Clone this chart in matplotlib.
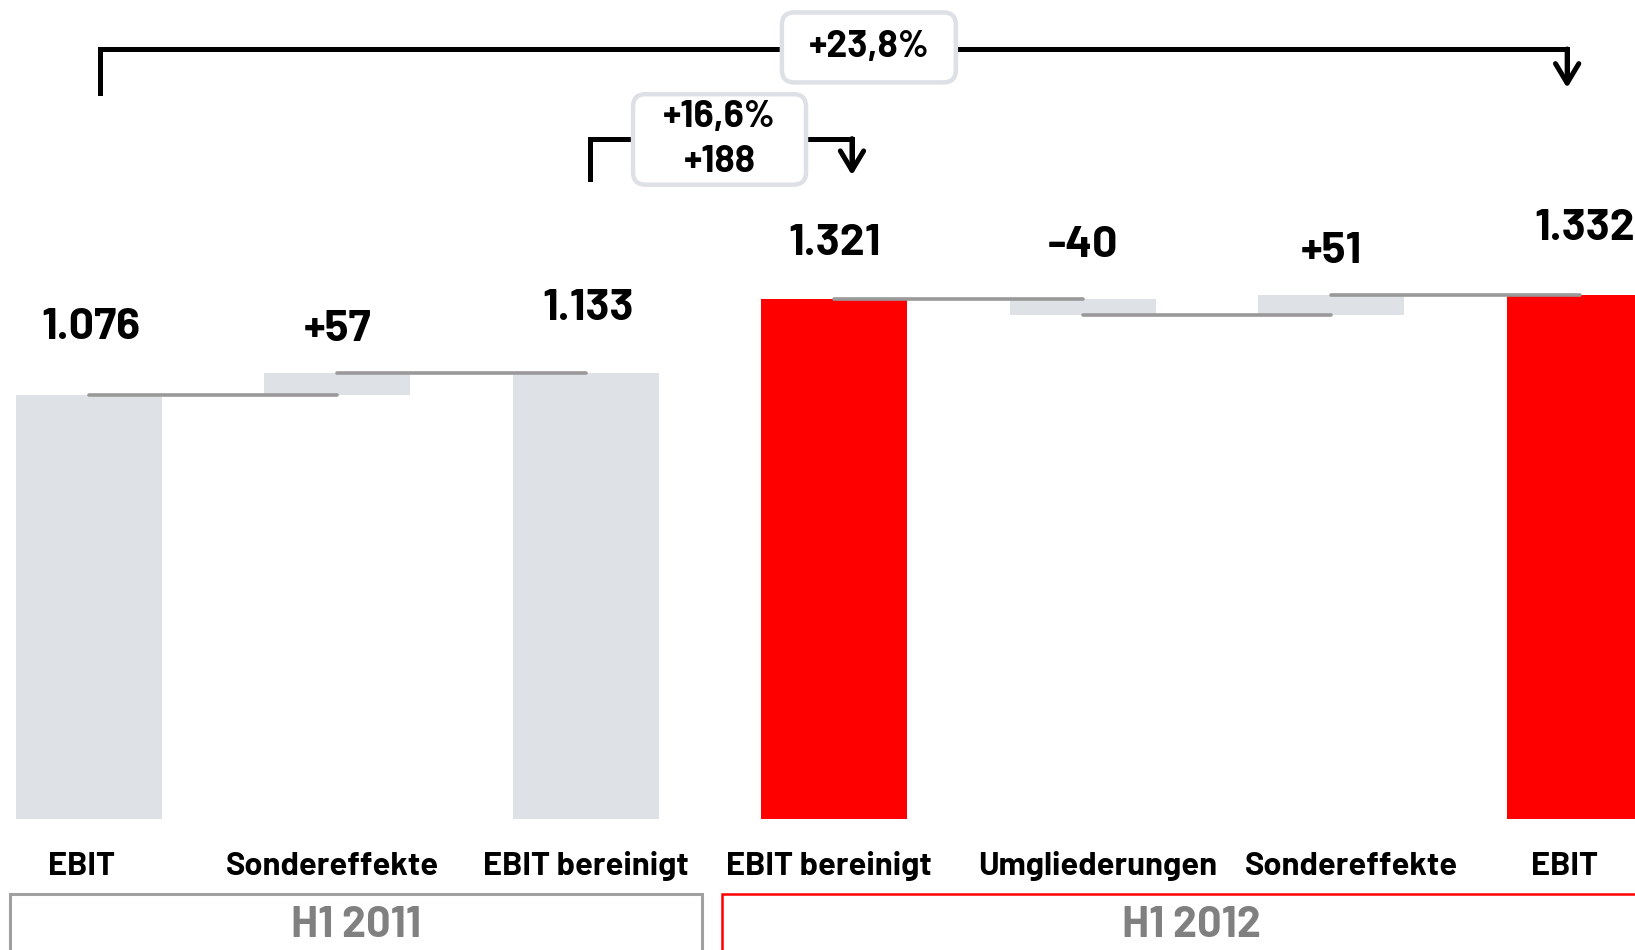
import numpy as np
import matplotlib.pyplot as plt
from matplotlib import font_manager
from matplotlib.patches import FancyBboxPatch

# ---- data ----
categories = ["EBIT", "Sondereffekte", "EBIT bereinigt",
              "EBIT bereinigt", "Umgliederungen", "Sondereffekte", "EBIT"]
values = [1076, 57, 1133, 1321, -40, 51, 1332]
is_total = [True, False, True, True, False, False, True]
period_idx = [0, 0, 0, 1, 1, 1, 1]
periods = ["H1 2011", "H1 2012"]
growth_total = "+23,8%"
growth_adjusted = ["+16,6%", "+188"]

# ---- style ----
BAR_GREY = "#dee1e6"
RED = "#ff0000"
RAIL = "#999999"
TXT_GREY = "#808080"
BOX_EDGE = "#dde0e5"

# a narrow-ish bold face if one is around, DejaVu Sans otherwise
installed = {f.name for f in font_manager.fontManager.ttflist}
main_font, shrink = "DejaVu Sans", 0.72
for cand in ["Barlow", "Barlow Semi Condensed", "Liberation Sans Narrow", "Asap Condensed"]:
    if cand in installed:
        main_font, shrink = cand, 1.0
        break
plt.rcParams["font.family"] = [main_font, "DejaVu Sans"]
plt.rcParams["font.weight"] = "bold"

FS_VALUE = 32 * shrink
FS_CAT = 23.5 * shrink
FS_PERIOD = 31 * shrink
FS_BOX = 27 * shrink

# ---- waterfall geometry ----
bottoms, heights, levels = [], [], []
running = 0
for v, tot in zip(values, is_total):
    if tot:
        bottoms.append(0)
        running = v
    else:
        bottoms.append(running)
        running += v
    heights.append(v)
    levels.append(running)

colors = []
for tot, p in zip(is_total, period_idx):
    colors.append(RED if (tot and p == 1) else BAR_GREY)

x = np.arange(len(values))

fig = plt.figure(figsize=(16.35, 9.5), dpi=100)
ax = fig.add_axes([0, 0, 1, 1])
ax.set_xlim(-0.3565, 6.223)
ax.set_ylim(-334.4, 2081.6)
ax.axis("off")

ax.bar(x, heights, bottom=bottoms, width=0.5875, color=colors, zorder=1)

# connector rails
for i in range(len(values) - 1):
    if period_idx[i] == period_idx[i + 1]:
        ax.plot([x[i], x[i + 1]], [levels[i], levels[i]], color=RAIL,
                lw=2.6, solid_capstyle="round", zorder=2)

# value labels
label_pad = [144, 81, 134, 111, 106, 81, 140]
label_dx = [0.01, 0, 0.01, 0, 0, 0, 0.02]
for i, (v, tot) in enumerate(zip(values, is_total)):
    txt = f"{v:,}".replace(",", ".") if tot else f"{v:+d}"
    top = max(bottoms[i], bottoms[i] + heights[i])
    ax.text(x[i] + label_dx[i], top + label_pad[i], txt, ha="center",
            va="baseline", fontsize=FS_VALUE, color="black")

# category labels
cat_dx = [-0.03, -0.02, 0, -0.02, 0.06, 0.08, -0.06]
for i, c in enumerate(categories):
    ax.text(x[i] + cat_dx[i], -143, c, ha="center", va="baseline",
            fontsize=FS_CAT, color="black")

# period boxes
ax.plot([-0.315, -0.315, 2.467, 2.467], [-500, -191, -191, -500],
        color="#a0a0a0", lw=2.2, solid_joinstyle="miter")
ax.plot([2.547, 2.547, 6.5], [-500, -191, -191],
        color=RED, lw=1.8, solid_joinstyle="miter")
ax.text(1.075, -302, periods[0], ha="center", va="baseline",
        fontsize=FS_PERIOD, color=TXT_GREY)
ax.text(4.44, -302, periods[1], ha="center", va="baseline",
        fontsize=FS_PERIOD, color=TXT_GREY)


# growth brackets
def bracket(x0, x1, y_top, y_left, y_arrow):
    ax.plot([x0, x0, x1, x1], [y_left, y_top, y_top, y_arrow + 30],
            color="black", lw=3.6, solid_joinstyle="miter", zorder=3)
    ax.annotate("", xy=(x1, y_arrow), xytext=(x1, y_top),
                arrowprops=dict(arrowstyle="->,head_length=0.7,head_width=0.42",
                                mutation_scale=20, lw=3.6, color="black",
                                shrinkA=0, shrinkB=0), zorder=3)


bracket(0.046, 5.95, 1957, 1846, 1858)
bracket(2.018, 3.072, 1729, 1626, 1636)

px_x = 1635 / (6.223 + 0.3565)
px_y = 950 / (2081.6 + 334.4)
aspect = px_x / px_y


def label_box(cx, cy, w, h, text):
    box = FancyBboxPatch((cx - w / 2, cy - h / 2), w, h,
                         boxstyle="round,pad=0,rounding_size=0.05",
                         mutation_aspect=aspect, fc="white", ec=BOX_EDGE,
                         lw=3.2, zorder=5)
    ax.add_patch(box)
    ax.text(cx, cy, text, ha="center", va="center", fontsize=FS_BOX,
            linespacing=1.4, color="black", zorder=6)


label_box(3.14, 1961, 0.70, 178, growth_total)
label_box(2.539, 1727, 0.696, 230, "\n".join(growth_adjusted))

fig.savefig("out.png", dpi=100)
